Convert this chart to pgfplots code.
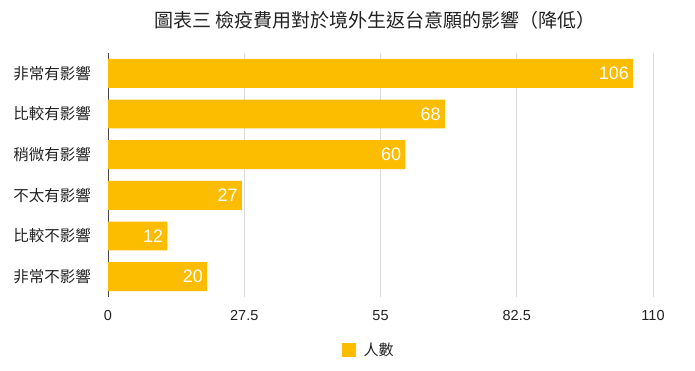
\documentclass[border=0pt]{standalone}
\usepackage{fontspec}
\setmainfont{Liberation Sans}
\newfontfamily\cjk{Noto Sans CJK TC}
\usepackage{pgfplots}
\pgfplotsset{compat=1.18}
\definecolor{barc}{RGB}{252,188,0}
\definecolor{txt}{RGB}{34,34,34}
\definecolor{gridc}{RGB}{218,218,218}
\definecolor{axc}{RGB}{70,70,70}
\begin{document}
\begin{tikzpicture}
\path[use as bounding box] (-108pt,-74pt) rectangle (587pt,297pt);
\begin{axis}[
 at={(0pt,0pt)}, anchor=south west,
 scale only axis, width=545pt, height=244pt,
 xbar, bar width=0.71,
 xmin=0, xmax=110, ymin=-0.5, ymax=5.5,
 xtick={0,27.5,55,82.5,110},
 xticklabels={0,27.5,55,82.5,110},
 ytick={0,...,5},
 yticklabels={非常不影響,比較不影響,不太有影響,稍微有影響,比較有影響,非常有影響},
 axis lines*=left,
 x axis line style={draw=none},
 y axis line style={draw=axc, line width=1pt},
 major tick length=0pt,
 xmajorgrids, grid style={gridc, line width=0.8pt},
 xticklabel style={font=\fontsize{14.5}{16}\selectfont, text=txt, inner sep=0pt, yshift=-13pt},
 yticklabel style={font=\cjk\fontsize{15.5}{17}\selectfont, text=txt, inner sep=0pt, xshift=-17pt},
 /pgf/number format/assume math mode=true,
 point meta=x,
 nodes near coords,
 nodes near coords style={white, font=\fontsize{18}{20}\selectfont, anchor=east, inner sep=0pt, xshift=-4pt},
 legend style={at={(0.478,-0.217)}, anchor=center, draw=none, font=\cjk\fontsize{15}{17}\selectfont, text=txt},
 legend image code/.code={\fill[barc] (0pt,-7pt) rectangle (14pt,7pt); \path (14pt,0pt) -- (20pt,0pt);},
]
\addplot[fill=barc, draw=none] coordinates {(20,0) (12,1) (27,2) (60,3) (68,4) (106,5)};
\addlegendentry{人數}
\end{axis}
\node[font=\cjk\fontsize{19}{21}\selectfont, text=txt] at (267pt,277pt) {圖表三 檢疫費用對於境外生返台意願的影響（降低）};
\end{tikzpicture}
\end{document}
